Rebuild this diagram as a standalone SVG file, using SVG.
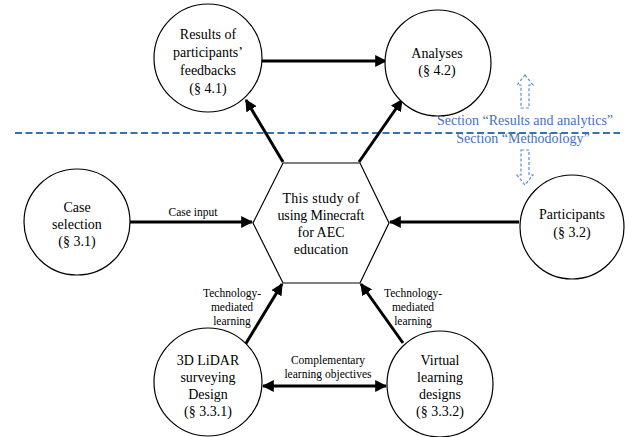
<svg xmlns="http://www.w3.org/2000/svg" width="625" height="437" viewBox="0 0 625 437">
<defs>
<style>
.node{fill:#fff;stroke:#000;stroke-width:1.2}
text{font-family:'Liberation Serif','Times New Roman',Times,serif;text-anchor:middle}
.t{font-size:14px;fill:#000}
.s{font-size:11.5px;fill:#000}
.sec{font-size:14px;fill:#4472c4}
.c{stroke:#000;stroke-width:3;fill:none}
.blue{stroke:#2e75b6;stroke-width:2;stroke-dasharray:7 3.5;fill:none}
.outline{stroke:#5b8fd6;stroke-width:1.2;stroke-dasharray:3 2;fill:none}
</style>
<marker id="ah" viewBox="0 0 10 10" refX="9" refY="5" markerWidth="4" markerHeight="4" orient="auto-start-reverse" markerUnits="strokeWidth">
<path d="M0,0 L10,5 L0,10 z" fill="#000"/>
</marker>
</defs>
<rect width="625" height="437" fill="#fff"/>

<line class="blue" x1="15" y1="133" x2="620" y2="133"/>
<g id="section-marks">
<path class="outline" d="M525,75 L533,85 L529,85 L529,108 L521,108 L521,85 L517,85 Z"/>
<path class="outline" d="M521,150 L529,150 L529,175 L533,175 L525,185 L517,175 L521,175 Z"/>
<text class="sec" x="525" y="125">Section “Results and analytics”</text>
<text class="sec" x="523" y="143">Section “Methodology”</text>
</g>

<g id="connectors">
<line class="c" x1="262" y1="61" x2="386" y2="61" marker-end="url(#ah)"/>
<line class="c" x1="283" y1="162" x2="246" y2="100" marker-end="url(#ah)"/>
<line class="c" x1="359" y1="162" x2="402" y2="100" marker-end="url(#ah)"/>
<line class="c" x1="130" y1="222" x2="252" y2="222" marker-end="url(#ah)"/>
<line class="c" x1="519" y1="222" x2="390" y2="222" marker-end="url(#ah)"/>
<line class="c" x1="245" y1="345" x2="282" y2="284" marker-end="url(#ah)"/>
<line class="c" x1="403" y1="343" x2="361" y2="284" marker-end="url(#ah)"/>
<line class="c" x1="263" y1="386" x2="386" y2="386" marker-start="url(#ah)" marker-end="url(#ah)"/>
<text class="s" x="193" y="216">Case input</text>
<text class="s" x="232" y="297">Technology-</text>
<text class="s" x="232" y="311">mediated</text>
<text class="s" x="232" y="325">learning</text>
<text class="s" x="413" y="297">Technology-</text>
<text class="s" x="413" y="311">mediated</text>
<text class="s" x="413" y="325">learning</text>
<text class="s" x="328" y="364">Complementary</text>
<text class="s" x="328" y="378">learning objectives</text>
</g>

<g id="results">
<circle class="node" cx="208" cy="58" r="54"/>
<text class="t" x="208" y="39">Results of</text>
<text class="t" x="208" y="57">participants’</text>
<text class="t" x="208" y="75">feedbacks</text>
<text class="t" x="208" y="93">(§ 4.1)</text>
</g>
<g id="analyses">
<circle class="node" cx="438" cy="63" r="53"/>
<text class="t" x="437" y="58">Analyses</text>
<text class="t" x="437" y="75">(§ 4.2)</text>
</g>
<g id="case">
<circle class="node" cx="77" cy="222" r="53"/>
<text class="t" x="77" y="212">Case</text>
<text class="t" x="77" y="229">selection</text>
<text class="t" x="77" y="246">(§ 3.1)</text>
</g>
<g id="study">
<polygon class="node" points="283,163 360,163 389,223 360,283 283,283 253,223"/>
<text class="t" x="321" y="203" textLength="77" lengthAdjust="spacing">This study of</text>
<text class="t" x="321" y="220" textLength="87" lengthAdjust="spacing">using Minecraft</text>
<text class="t" x="321" y="237">for AEC</text>
<text class="t" x="321" y="254">education</text>
</g>
<g id="participants">
<circle class="node" cx="572" cy="227" r="52"/>
<text class="t" x="572" y="219">Participants</text>
<text class="t" x="572" y="237">(§ 3.2)</text>
</g>
<g id="lidar">
<circle class="node" cx="208" cy="382" r="54"/>
<text class="t" x="208" y="365">3D LiDAR</text>
<text class="t" x="208" y="382">surveying</text>
<text class="t" x="208" y="399">Design</text>
<text class="t" x="208" y="416">(§ 3.3.1)</text>
</g>
<g id="virtual">
<circle class="node" cx="440" cy="384" r="53"/>
<text class="t" x="440" y="365">Virtual</text>
<text class="t" x="440" y="382">learning</text>
<text class="t" x="440" y="399">designs</text>
<text class="t" x="440" y="416">(§ 3.3.2)</text>
</g>
</svg>
